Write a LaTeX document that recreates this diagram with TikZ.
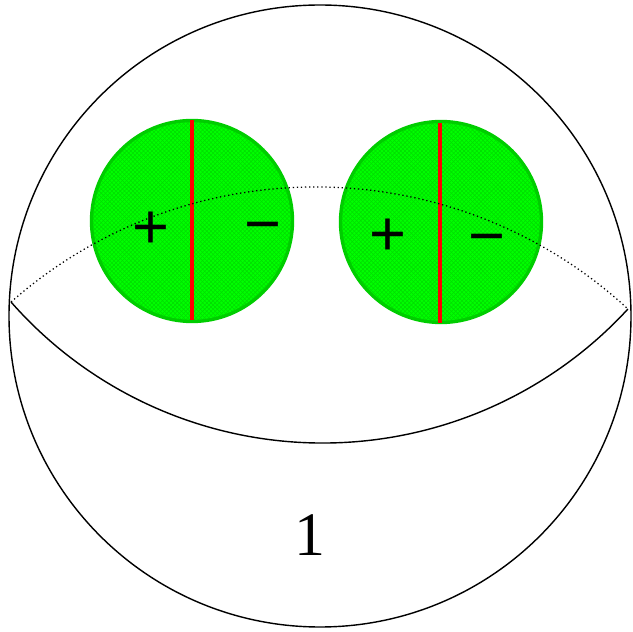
\documentclass[tikz,border=0pt]{standalone}
\usepackage{fontspec}
\usepackage{tikz}
\usetikzlibrary{patterns}

\newfontfamily\signfont{Liberation Sans}
\newfontfamily\labelfont{Liberation Serif}

\definecolor{diskgreen}{RGB}{0,255,0}
\definecolor{diskedge}{RGB}{0,205,0}
\definecolor{hatchgreen}{RGB}{0,222,0}
\definecolor{cutred}{RGB}{255,0,0}

\tikzset{
	disk/.style={fill=diskgreen},
	hatch/.style={pattern=crosshatch, pattern color=hatchgreen},
	rim/.style={draw=diskedge, line width=2.4pt},
	cut/.style={draw=cutred, line width=2.5pt},
	sign/.style={font=\signfont\fontsize{45}{47}\selectfont, inner sep=0pt}
}

\begin{document}
\begin{tikzpicture}[x=0.025cm, y=0.025cm]
		\useasboundingbox (0,0) rectangle (633,632);
		% Sphere outline
		\draw[line width=1pt] (320,316) circle (311);

		% Equator: front half solid, back half dotted
		\begin{scope}[rotate around={-0.65:(319.5,326.5)}]
			\draw[line width=1pt] (11,326.5) arc[start angle=221.95, end angle=318.05, radius=414.8];
		\end{scope}

		% Two charged disks
		\fill[disk] (192,411) circle (101);
		\fill[hatch] (192,411) circle (100);
		\draw[rim] (192,411) circle (100.5);
		\fill[disk] (441,410) circle (101);
		\fill[hatch] (441,410) circle (100);
		\draw[rim] (441,410) circle (100.5);

		% Dividing lines
		\draw[cut] (192,512) -- (192,312);
		\draw[cut] (440,509) -- (440,309);

		% Back of equator (over the disks)
		\begin{scope}[rotate around={-0.65:(319.5,326.5)}]
			\draw[dotted, line width=0.9pt] (11,326.5) arc[start angle=132.03, end angle=47.97, radius=460.8];
		\end{scope}

		% Signs
		\node[sign] (lp) at (151,402) {+};
		\node[sign] (lm) at (263,398) {−};
		\node[sign] (rp) at (388,395) {+};
		\node[sign] (rm) at (487,386) {−};

		% Region label
		\node[font=\labelfont\fontsize{44}{46}\selectfont] (one) at (310,97) {1};
	\end{tikzpicture}
\end{document}
